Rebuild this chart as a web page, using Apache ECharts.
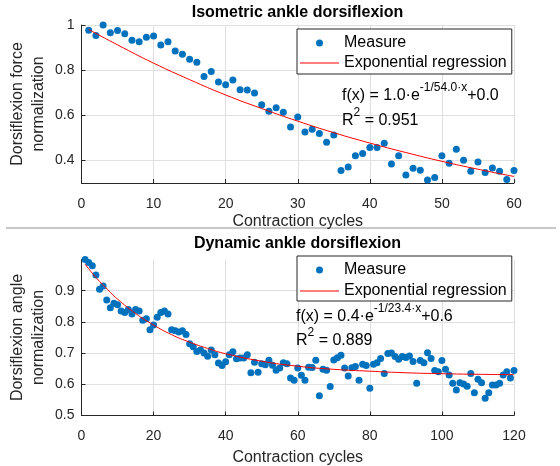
<!DOCTYPE html>
<html><head><meta charset="utf-8">
<script src="https://cdn.jsdelivr.net/npm/echarts@6/dist/echarts.min.js"></script>
<style>html,body{margin:0;padding:0;background:#fff}#c{width:560px;height:466px}</style>
</head><body><div id="c"></div>
<script>
// ---- data ----
const isoForce = [0.977,0.953,1.0,0.966,0.976,0.961,0.932,0.926,0.946,0.951,
 0.911,0.926,0.885,0.870,0.848,0.835,0.772,0.794,0.747,0.735,
 0.756,0.713,0.712,0.699,0.647,0.618,0.633,0.614,0.548,0.592,
 0.526,0.538,0.519,0.480,0.513,0.355,0.371,0.421,0.431,0.457,
 0.457,0.476,0.384,0.421,0.335,0.365,0.357,0.313,0.324,0.421,
 0.388,0.450,0.401,0.352,0.393,0.347,0.366,0.352,0.316,0.355];
const isoFitX = [1,5,10,15,20,25,30,35,40,45,50,55,60];
const isoFitY = [0.980,0.912,0.831,0.758,0.690,0.630,0.574,0.523,0.477,0.435,0.396,0.361,0.329];

const dynAngle = [1.00,0.99,0.98,0.95,0.905,0.915,0.87,0.845,0.86,0.855,
 0.835,0.83,0.84,0.825,0.84,0.835,0.805,0.81,0.775,0.79,
 0.815,0.83,0.835,0.825,0.775,0.772,0.768,0.772,0.76,0.73,
 0.72,0.705,0.71,0.70,0.69,0.71,0.695,0.668,0.66,0.672,
 0.695,0.704,0.682,0.684,0.684,0.695,0.637,0.671,0.639,0.666,
 0.663,0.677,0.661,0.645,0.652,0.669,0.666,0.62,0.613,0.652,
 0.629,0.613,0.655,0.654,0.677,0.563,0.648,0.645,0.593,0.678,
 0.685,0.693,0.652,0.627,0.653,0.657,0.613,0.664,0.66,0.587,
 0.664,0.669,0.683,0.635,0.699,0.70,0.689,0.68,0.689,0.686,
 0.691,0.673,0.603,0.676,0.669,0.701,0.683,0.644,0.64,0.676,
 0.648,0.63,0.603,0.582,0.605,0.601,0.594,0.635,0.573,0.616,
 0.605,0.555,0.573,0.598,0.598,0.603,0.63,0.64,0.62,0.644];
const dynFitX = [1,3,5,8,10,15,20,25,30,35,40,50,60,70,80,90,100,110,120];
const dynFitY = [0.985,0.956,0.930,0.895,0.873,0.827,0.790,0.759,0.735,0.715,0.698,0.674,0.658,0.648,0.642,0.637,0.634,0.632,0.631];

const isoYTicks = [0.4,0.6,0.8,1];
const dynYTicks = [0.5,0.6,0.7,0.8,0.9];
const titles = ['Isometric ankle dorsiflexion','Dynamic ankle dorsiflexion'];
const yNames = ['Dorsiflexion force\nnormalization','Dorsiflexion angle\nnormalization'];
const xName = 'Contraction cycles';
const seriesNames = ['Measure','Exponential regression'];

// ---- chart ----
const FONT = '"Liberation Sans", Arial, Helvetica, sans-serif';
const AX = '#262626', GRID = '#dfdfdf', BLUE = '#0072BD', RED = '#FF0000';

function xAxis(gi, max, interval, gap) {
  return {type:'value', gridIndex:gi, min:0, max:max, interval:interval,
    axisLine:{show:true, onZero:false, lineStyle:{color:AX, width:1}},
    axisTick:{show:true, inside:true, length:4, lineStyle:{color:AX}},
    axisLabel:{color:AX, fontSize:14, fontFamily:FONT, margin:14},
    splitLine:{show:true, lineStyle:{color:GRID, width:1}},
    name:xName, nameLocation:'middle', nameGap:gap, nameMoveOverlap:false,
    nameTextStyle:{color:AX, fontSize:16, fontFamily:FONT, lineHeight:18}};
}
function yAxis(gi, min, max, ticks, name) {
  return {type:'value', gridIndex:gi, min:min, max:max,
    axisLine:{show:true, onZero:false, lineStyle:{color:AX, width:1}},
    axisTick:{show:true, inside:true, length:4, customValues:ticks, lineStyle:{color:AX}},
    axisLabel:{customValues:ticks, color:AX, fontSize:14, fontFamily:FONT, margin:7},
    splitLine:{show:true, lineStyle:{color:GRID, width:1}},
    name:name, nameLocation:'middle', nameGap:32, nameRotate:90, nameMoveOverlap:false,
    nameTextStyle:{color:AX, fontSize:16, fontFamily:FONT, lineHeight:21}};
}
function legend(top, pad, gap) {
  return {show:true, orient:'vertical', left:297, top:top,
    data:[{name:seriesNames[0], icon:'circle'},
          {name:seriesNames[1], icon:'path://M0,0L40,0L40,1L0,1Z'}],
    selectedMode:false, backgroundColor:'#fff', borderColor:AX, borderWidth:1, borderRadius:0,
    padding:pad, itemGap:gap, itemWidth:39, itemHeight:7,
    textStyle:{color:'#000', fontSize:16, fontFamily:FONT, lineHeight:18}};
}
const richSup = {
  a:{fontSize:16, fontFamily:FONT, color:'#000', lineHeight:18, verticalAlign:'bottom'},
  s:{fontSize:12, fontFamily:FONT, color:'#000', lineHeight:13, padding:[0,0,10,0], verticalAlign:'bottom'}
};
function annText(x, y, txt) {
  return {type:'text', x:x, y:y, z:100, style:{text:txt, rich:richSup, fill:'#000',
    align:'left', verticalAlign:'top', textAlign:'left', textVerticalAlign:'top', font:'16px ' + FONT}};
}
function titleText(y, txt) {
  return {type:'text', x:297.5, y:y, z:100, style:{text:txt, fill:'#000',
    font:'bold 16px ' + FONT, align:'center', verticalAlign:'middle', textAlign:'center', textVerticalAlign:'middle'}};
}

const chart = echarts.init(document.getElementById('c'), null, {renderer:'canvas'});
chart.setOption({
  animation:false,
  backgroundColor:'#fff',
  grid:[
    {left:81.5, top:25, width:432.5, height:158, containLabel:false, outerBoundsMode:'none'},
    {left:81.5, top:259.5, width:432.5, height:156, containLabel:false, outerBoundsMode:'none'}
  ],
  xAxis:[xAxis(0, 60, 10, 30), xAxis(1, 120, 20, 33)],
  yAxis:[yAxis(0, 0.3, 1, isoYTicks, yNames[0]), yAxis(1, 0.5, 1, dynYTicks, yNames[1])],
  legend:[legend(29, [5,5,2,3], 2), legend(256, [5,5,1,3], 3)],
  series:[
    {type:'scatter', name:seriesNames[0], xAxisIndex:0, yAxisIndex:0, symbolSize:7,
      itemStyle:{color:BLUE, opacity:1}, data:isoForce.map((v,i)=>[i+1,v])},
    {type:'line', name:seriesNames[1], xAxisIndex:0, yAxisIndex:0, smooth:true, symbol:'none',
      lineStyle:{color:RED, width:1}, itemStyle:{color:RED}, data:isoFitX.map((x,i)=>[x,isoFitY[i]])},
    {type:'scatter', name:seriesNames[0], xAxisIndex:1, yAxisIndex:1, symbolSize:7,
      itemStyle:{color:BLUE, opacity:1}, data:dynAngle.map((v,i)=>[i+1,v])},
    {type:'line', name:seriesNames[1], xAxisIndex:1, yAxisIndex:1, smooth:true, symbol:'none',
      lineStyle:{color:RED, width:1}, itemStyle:{color:RED}, data:dynFitX.map((x,i)=>[x,dynFitY[i]])}
  ],
  graphic:[
    titleText(12.5, titles[0]),
    titleText(244, titles[1]),
    {type:'line', z:-1, shape:{x1:6, y1:228, x2:556, y2:228}, style:{stroke:'#c8c8c8', lineWidth:2}},
    annText(342, 86, '{a|f(x) = 1.0·e}{s|-1/54.0·x}{a|+0.0}'),
    annText(342, 111, '{a|R}{s|2}{a| = 0.951}'),
    annText(296, 307, '{a|f(x) = 0.4·e}{s|-1/23.4·x}{a|+0.6}'),
    annText(296, 331, '{a|R}{s|2}{a| = 0.889}')
  ]
});
</script></body></html>
